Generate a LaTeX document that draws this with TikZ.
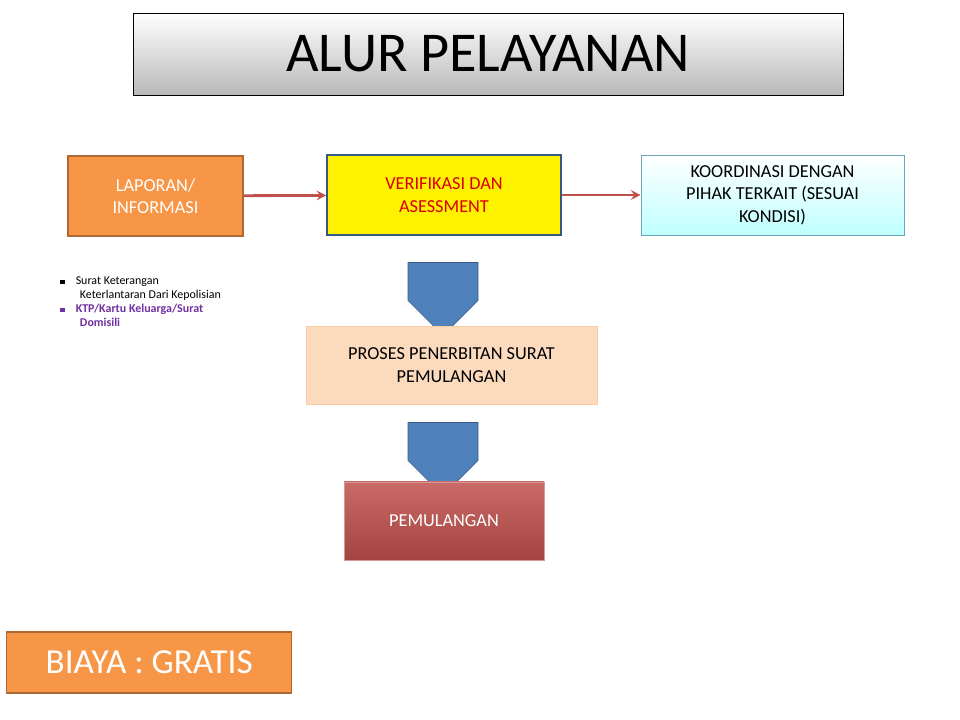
\documentclass[tikz,border=0pt]{standalone}
\usepackage{fontspec}
\setmainfont{Carlito}
\usetikzlibrary{shapes.arrows}
\definecolor{boxorange}{HTML}{F79646}
\definecolor{boxred}{HTML}{C0504D}
\definecolor{boxblue}{HTML}{4F81BD}
\definecolor{purpletext}{HTML}{7030A0}
\tikzset{
  box/.style={draw, line width=1pt, align=center, font=\fontsize{13}{16}\selectfont},
  flow/.style={->, >=stealth, line width=2pt, draw=boxred},
  downarrow/.style={draw=boxblue!70!black, fill=boxblue, single arrow, shape border rotate=270,
    minimum width=70*0.025cm, minimum height=73*0.025cm, single arrow head extend=0cm,
    single arrow tip angle=90, inner sep=0pt}
}
\begin{document}
\begin{tikzpicture}[x=0.025cm,y=-0.025cm]
  \useasboundingbox (0,0) rectangle (960,720);
  % judul
  \shade[top color=white, bottom color=gray!55, draw=black] (133,13) rectangle (843,95);
  \node (judul) at (488,54) {\fontsize{40}{44}\selectfont ALUR PELAYANAN};
  % baris atas
  \node[box, draw=boxorange!70!black, fill=boxorange, text=white, minimum width=175*0.025cm, minimum height=80*0.025cm]
    (laporan) at (155.5,196) {LAPORAN/\\INFORMASI};
  \node[box, draw=boxblue!70!black, fill=yellow, text=red!85!black, minimum width=234*0.025cm, minimum height=80*0.025cm]
    (verif) at (444,195) {VERIFIKASI DAN\\ASESSMENT};
  \node[box, draw=cyan!40!gray, top color=white, bottom color=cyan!25, minimum width=263*0.025cm, minimum height=80*0.025cm, line width=0.6pt]
    (koord) at (772.5,195) {KOORDINASI DENGAN\\PIHAK TERKAIT (SESUAI\\KONDISI)};
  \draw[flow] (laporan) -- (verif);
  \draw[flow] (verif) -- (koord);
  % panah ke bawah
  \node[downarrow] (panah1) at (443,281.5) {};
  \node[box, draw=boxorange!50, fill=boxorange!35, line width=0.6pt, minimum width=291*0.025cm, minimum height=78*0.025cm]
    (proses) at (451.5,365) {PROSES PENERBITAN SURAT\\PEMULANGAN};
  \node[downarrow] (panah2) at (443,441.5) {};
  \node[box, draw=boxred!60, top color=boxred!85, bottom color=boxred!85!black, text=white, line width=0.6pt, minimum width=200*0.025cm, minimum height=78*0.025cm]
    (pulang) at (444,521) {PEMULANGAN};
  % syarat
  \node[anchor=north west, align=left, font=\fontsize{8.5}{10}\selectfont, inner sep=0pt] (syarat) at (60,276) {%
    \rule{3pt}{3pt}\hspace{8pt}Surat Keterangan\\
    \hspace{14pt}Keterlantaran Dari Kepolisian\\
    \textcolor{purpletext}{\rule{3pt}{3pt}\hspace{8pt}\textbf{KTP/Kartu Keluarga/Surat}}\\
    \hspace{14pt}\textcolor{purpletext}{\textbf{Domisili}}};
  % biaya
  \node[box, draw=boxorange!70!black, fill=boxorange, text=white, anchor=west, minimum width=285*0.025cm, minimum height=61*0.025cm, align=left, font=\fontsize{25}{28}\selectfont, inner sep=4pt]
    (biaya) at (6,662.5) {BIAYA : GRATIS\hfill};
\end{tikzpicture}
\end{document}
